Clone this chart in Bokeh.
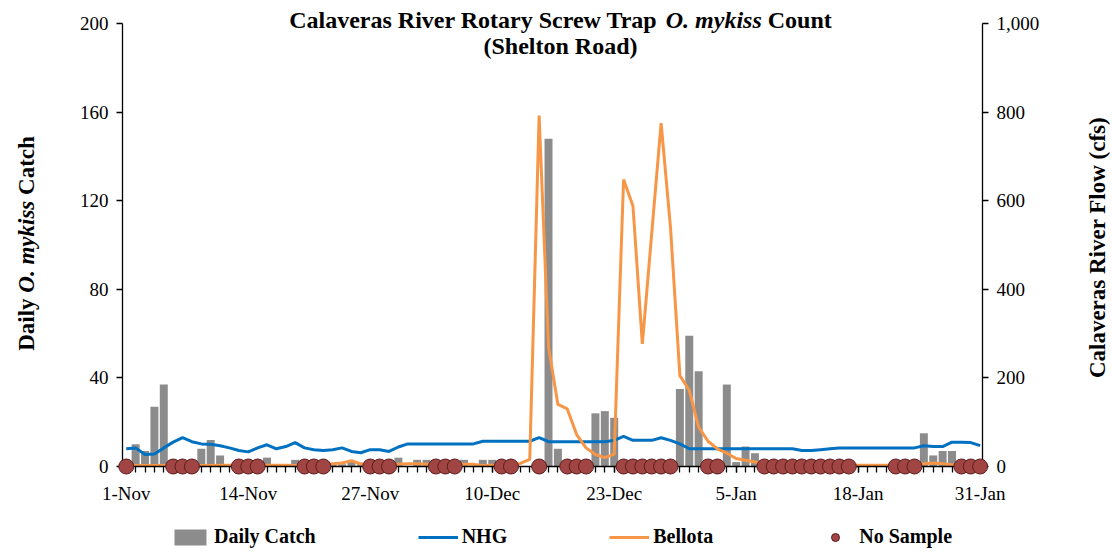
import math
from bokeh.plotting import figure
from bokeh.models import (Range1d, LinearAxis, FixedTicker, NumeralTickFormatter,
                          Label, Legend, LegendItem)
from bokeh.embed import file_html
from bokeh.resources import INLINE

# ---------------- data ----------------
days = list(range(92))  # 0 = 1-Nov ... 91 = 31-Jan
tick_days = [0, 13, 26, 39, 52, 65, 78, 91]
tick_labels = ["1-Nov", "14-Nov", "27-Nov", "10-Dec", "23-Dec", "5-Jan", "18-Jan", "31-Jan"]

catch = [0, 10, 7, 27, 37, 0, 0, 0, 8, 12,
         5, 0, 0, 0, 0, 4, 0, 0, 3, 0,
         0, 0, 1, 1, 2, 1, 0, 0, 0, 4,
         0, 3, 3, 0, 0, 0, 3, 0, 3, 3,
         0, 0, 0, 0, 0, 148, 8, 0, 0, 0,
         24, 25, 22, 0, 0, 0, 0, 0, 0, 35,
         59, 43, 0, 0, 37, 2, 9, 6, 0, 0,
         0, 0, 0, 0, 0, 0, 0, 0, 0, 0,
         1, 0, 0, 0, 0, 15, 5, 7, 7, 0,
         0, 0]

nhg = [40, 42, 27, 28, 42, 55, 65, 56, 51, 50,
       47, 42, 36, 33, 42, 49, 40, 45, 54, 42,
       38, 36, 38, 42, 34, 31, 38, 38, 34, 44,
       51, 51, 51, 51, 51, 51, 51, 51, 57, 57,
       57, 57, 57, 57, 65, 56, 56, 56, 56, 56,
       56, 56, 59, 68, 59, 59, 59, 65, 59, 51,
       40, 40, 40, 40, 40, 40, 40, 40, 40, 40,
       40, 40, 36, 36, 38, 40, 42, 42, 42, 42,
       42, 42, 42, 42, 42, 47, 45, 45, 55, 55,
       54, 47]

bellota = [2, 2, 2, 2, 2, 2, 2, 2, 2, 2,
           3, 3, 3, 3, 3, 3, 3, 3, 2, 2,
           3, 4, 6, 8, 13, 6, 4, 3, 4, 5,
           6, 6, 5, 5, 5, 5, 5, 5, 2, 3,
           4, 5, 7, 16, 792, 270, 140, 130, 72, 42,
           27, 20, 28, 648, 588, 277, 526, 775, 540, 205,
           172, 89, 57, 40, 30, 18, 14, 10, 7, 5,
           4, 4, 3, 3, 3, 3, 3, 3, 3, 3,
           3, 3, 3, 3, 3, 6, 8, 6, 4, 3,
           2, 2]

no_sample_days = [0, 5, 6, 7, 12, 13, 14, 19, 20, 21, 26, 27, 28, 33, 34, 35,
                  40, 41, 44, 47, 48, 49, 53, 54, 55, 56, 57, 58, 62, 63,
                  68, 69, 70, 71, 72, 73, 74, 75, 76, 77, 82, 83, 84, 89, 90, 91]

# ---------------- layout ----------------
W, H = 1112, 552
AL, AR, AT, AB = 122, 982, 23, 466          # axis box (px) on the page
X0, X1 = -0.4, 91.25                          # x values at AL / AR
Y0, Y1 = 0, 200                               # left y values at AB / AT
F0, F1 = 0, 1000                              # right y values at AB / AT

def dx(px):   # page px -> data x
    return X0 + (px - AL) / float(AR - AL) * (X1 - X0)

def dy(py):   # page px -> left-axis data y
    return Y0 + (AB - py) / float(AB - AT) * (Y1 - Y0)

def fy(py):   # page px -> right-axis data y
    return F0 + (AB - py) / float(AB - AT) * (F1 - F0)

# the frame covers the whole canvas; axes are pinned at their data positions
p = figure(width=W, height=H,
           x_range=Range1d(dx(0), dx(W)), y_range=Range1d(dy(H), dy(0)),
           output_backend="svg", toolbar_location=None,
           min_border_left=0, min_border_right=0, min_border_top=0, min_border_bottom=0)
p.extra_y_ranges = {"flow": Range1d(fy(H), fy(0))}
p.outline_line_color = None
p.xgrid.visible = False
p.ygrid.visible = False
p.background_fill_color = "white"
p.border_fill_color = "white"

FONT = "Liberation Serif"

def style_axis(ax, standoff):
    ax.axis_line_color = "black"
    ax.axis_line_width = 1.3
    ax.major_tick_line_color = "black"
    ax.major_tick_line_width = 1.3
    ax.major_tick_out = 6
    ax.major_tick_in = 0
    ax.major_label_text_font = FONT
    ax.major_label_text_font_size = "19px"
    ax.major_label_text_color = "black"
    ax.major_label_standoff = standoff

xa = p.xaxis[0]
xa.ticker = FixedTicker(ticks=tick_days, minor_ticks=days)
xa.major_label_overrides = {d: l for d, l in zip(tick_days, tick_labels)}
style_axis(xa, 10)
xa.minor_tick_line_color = "black"
xa.minor_tick_line_width = 1.3
xa.minor_tick_out = 6
xa.minor_tick_in = 0
xa.fixed_location = Y0
xa.bounds = (X0, X1)

ya = p.yaxis[0]
ya.ticker = FixedTicker(ticks=[0, 40, 80, 120, 160, 200])
style_axis(ya, 8)
ya.minor_tick_line_color = None
ya.fixed_location = X0
ya.bounds = (Y0, Y1)

yr = LinearAxis(y_range_name="flow", ticker=FixedTicker(ticks=[0, 200, 400, 600, 800, 1000]),
                formatter=NumeralTickFormatter(format="0,0"))
style_axis(yr, 8)
yr.minor_tick_line_color = None
yr.fixed_location = X1
yr.bounds = (F0, F1)
p.add_layout(yr, "right")

# ---------------- glyphs ----------------
r_bar = p.vbar(x=days, top=catch, width=0.85, fill_color="#8C8C8C", line_color=None)
r_nhg = p.line(days, nhg, y_range_name="flow", line_color="#0070C0", line_width=3)
r_bel = p.line(days, bellota, y_range_name="flow", line_color="#F79646", line_width=3)
r_ns = p.scatter(no_sample_days, [0] * len(no_sample_days), size=15, marker="circle",
                 fill_color="#A04543", line_color="#5A1C1C", line_width=1, level="overlay")

# ---------------- text helpers ----------------
BOLD = {' ': 250, '(': 333, ')': 333, '.': 250, 'C': 722, 'D': 722, 'F': 611, 'R': 722,
        'S': 556, 'T': 667, 'O': 778, 'N': 722, 'a': 500, 'c': 444, 'd': 556, 'e': 444,
        'f': 333, 'h': 556, 'i': 278, 'k': 556, 'l': 278, 'm': 833, 'n': 556, 'o': 500,
        'p': 556, 'r': 444, 's': 389, 't': 333, 'u': 556, 'v': 500, 'w': 722, 'y': 500}
BOLDIT = {' ': 250, '.': 250, 'O': 722, 'm': 778, 'y': 444, 'k': 500, 'i': 278, 's': 389}

def tw(s, style, size):
    tab = BOLDIT if "italic" in style else BOLD
    return sum(tab.get(ch, 500) for ch in s) * size / 1000.0

def mixed(segs, cx, cy, size, vertical=False):
    widths = [tw(s, st, size) for s, st in segs]
    total = sum(widths)
    pos = -total / 2.0
    for (s, st), w in zip(segs, widths):
        lead = len(s) - len(s.lstrip(' '))
        txt = s.strip(' ')
        off = pos + tw(' ' * lead, st, size)
        if vertical:
            x, y, ang = cx, cy - off, math.pi / 2
        else:
            x, y, ang = cx + off, cy, 0
        p.add_layout(Label(x=dx(x), y=dy(y), text=txt, angle=ang, level="overlay",
                           text_font=FONT, text_font_size=f"{size}px",
                           text_font_style=st, text_color="black",
                           text_align="left", text_baseline="middle"))
        pos += w

mixed([("Calaveras River Rotary Screw Trap ", "bold"), ("O. mykiss", "bold italic"),
       (" Count", "bold")], 560, 19, 24)
mixed([("(Shelton Road)", "bold")], 560, 45, 24)
mixed([("Daily ", "bold"), ("O. mykiss", "bold italic"), (" Catch", "bold")], 26, 243, 23,
      vertical=True)
mixed([("Calaveras River Flow (cfs)", "bold")], 1097, 247, 23, vertical=True)

# ---------------- legend ----------------
legend = Legend(items=[LegendItem(label="Daily Catch", renderers=[r_bar]),
                       LegendItem(label="NHG", renderers=[r_nhg]),
                       LegendItem(label="Bellota", renderers=[r_bel]),
                       LegendItem(label="No Sample", renderers=[r_ns])],
                orientation="horizontal", location=(170, 4), level="overlay",
                glyph_width=40, glyph_height=20, label_standoff=4, spacing=102,
                padding=0, margin=0, border_line_color=None, background_fill_alpha=0,
                label_text_font=FONT, label_text_font_size="20px",
                label_text_font_style="bold", label_text_color="black")
p.add_layout(legend)

open("out.html", "w").write(file_html(p, INLINE))
